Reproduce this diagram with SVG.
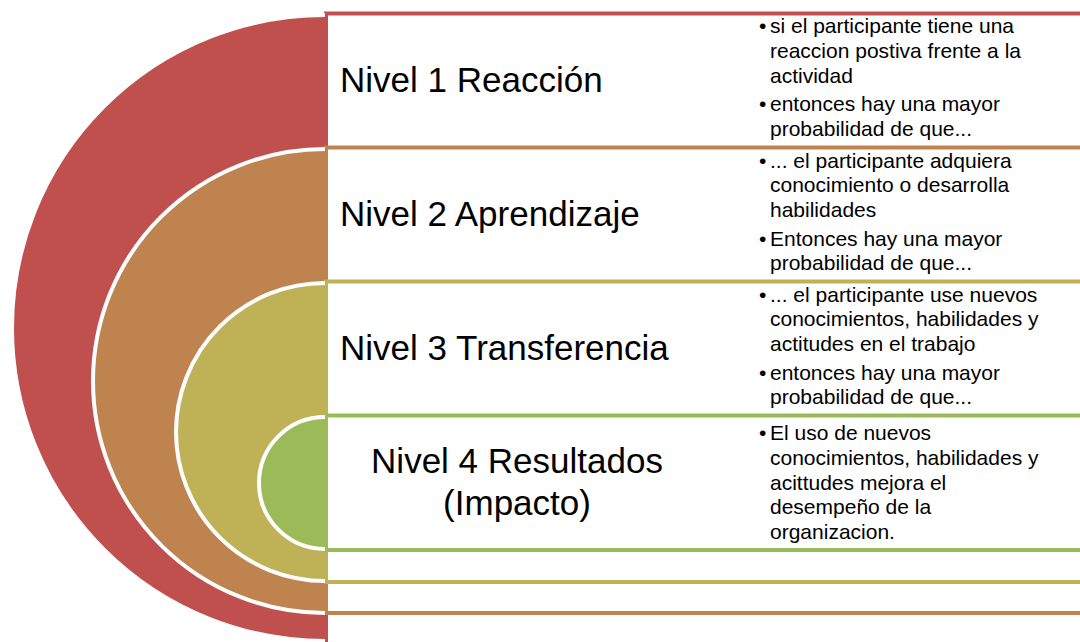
<svg xmlns="http://www.w3.org/2000/svg" width="1080" height="642" viewBox="0 0 1080 642">
<style>
.ring{stroke:#fff;stroke-width:4;}
.band{fill:#fff;stroke-width:4;}
.title{font-family:"Liberation Sans",Arial,sans-serif;font-size:35px;fill:#000;}
.txt{font-family:"Liberation Sans",Arial,sans-serif;font-size:21px;fill:#000;}
.c1{fill:#C0504D}.s1{stroke:#C0504D}
.c2{fill:#BF834F}.s2{stroke:#BF834F}
.c3{fill:#BFB156}.s3{stroke:#BFB156}
.c4{fill:#9BBB59}.s4{stroke:#9BBB59}
</style>
<rect width="1080" height="642" fill="#fff"/>
<g id="level1">
<rect class="band s1" x="326" y="13.5" width="780" height="660"/>
<path class="ring c1" d="M325,15 A313,313 0 0 0 325,641"/>
<text class="title" x="340" y="92">Nivel 1 Reacción</text>
<text class="txt" x="759" y="33">•</text>
<text class="txt" x="770" y="33">si el participante tiene una</text>
<text class="txt" x="770" y="57.8">reaccion postiva frente a la</text>
<text class="txt" x="770" y="82.6">actividad</text>
<text class="txt" x="759" y="111">•</text>
<text class="txt" x="770" y="111">entonces hay una mayor</text>
<text class="txt" x="770" y="135.8">probabilidad de que...</text>
</g>
<g id="level2">
<rect class="band s2" x="326" y="147.5" width="780" height="465.5"/>
<path class="ring c2" d="M325,149 A232,232 0 0 0 325,613"/>
<text class="title" x="340" y="226">Nivel 2 Aprendizaje</text>
<text class="txt" x="759" y="167.5">•</text>
<text class="txt" x="770" y="167.5">... el participante adquiera</text>
<text class="txt" x="770" y="192.3">conocimiento o desarrolla</text>
<text class="txt" x="770" y="217.1">habilidades</text>
<text class="txt" x="759" y="245.5">•</text>
<text class="txt" x="770" y="245.5">Entonces hay una mayor</text>
<text class="txt" x="770" y="270.3">probabilidad de que...</text>
</g>
<g id="level3">
<rect class="band s3" x="326" y="281.5" width="780" height="300.5"/>
<path class="ring c3" d="M325,283 A149,149 0 0 0 325,581"/>
<text class="title" x="340" y="360">Nivel 3 Transferencia</text>
<text class="txt" x="759" y="301.5">•</text>
<text class="txt" x="770" y="301.5">... el participante use nuevos</text>
<text class="txt" x="770" y="326.3">conocimientos, habilidades y</text>
<text class="txt" x="770" y="351.1">actitudes en el trabajo</text>
<text class="txt" x="759" y="379.5">•</text>
<text class="txt" x="770" y="379.5">entonces hay una mayor</text>
<text class="txt" x="770" y="404.3">probabilidad de que...</text>
</g>
<g id="level4">
<rect class="band s4" x="326" y="415.5" width="780" height="134.5"/>
<path class="ring c4" d="M325,417 A66,66 0 0 0 325,549"/>
<text class="title" x="517" y="473" text-anchor="middle">Nivel 4 Resultados</text>
<text class="title" x="517" y="515" text-anchor="middle">(Impacto)</text>
<text class="txt" x="759" y="440">•</text>
<text class="txt" x="770" y="440">El uso de nuevos</text>
<text class="txt" x="770" y="464.8">conocimientos, habilidades y</text>
<text class="txt" x="770" y="489.6">acittudes mejora el</text>
<text class="txt" x="770" y="514.4">desempeño de la</text>
<text class="txt" x="770" y="539.2">organizacion.</text>
</g>
<g id="connectors"></g>
</svg>
